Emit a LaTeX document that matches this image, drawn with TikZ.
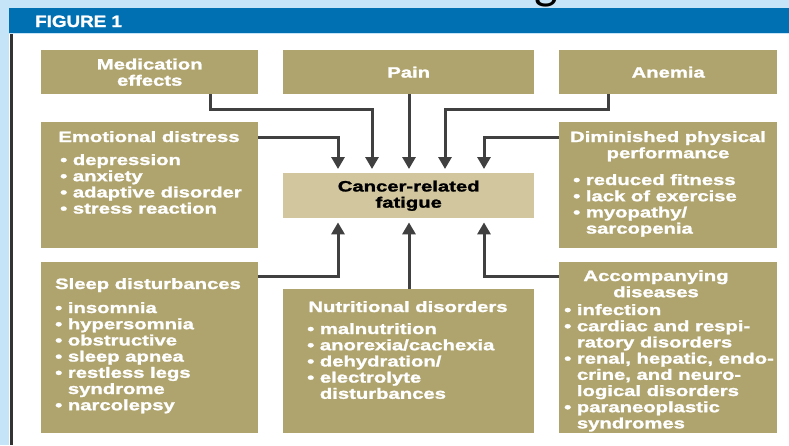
\documentclass[tikz,border=0pt]{standalone}
\usepackage{fontspec}
\usetikzlibrary{arrows.meta}
\setmainfont{Liberation Sans}
\newfontfamily\bxf[FakeStretch=1.35,FakeBold=1.6]{Liberation Sans Bold}
\newfontfamily\figf[FakeStretch=1.14,FakeBold=1.6]{Liberation Sans Bold}
\newfontfamily\titlef{Carlito}
\definecolor{bgblue}{HTML}{C6E4F8}
\definecolor{barblue}{HTML}{0070B2}
\definecolor{olivebox}{HTML}{B0A46E}
\definecolor{fatiguebox}{HTML}{D2C69F}
\definecolor{arrowgray}{HTML}{404040}
\newcommand\hind{\phantom{\textbullet\ }}
\tikzset{
  box/.style={fill=olivebox, draw=none, inner sep=0pt, anchor=north west, text=white,
    font=\bxf\fontsize{15}{16.2}\selectfont, align=center},
  txt/.style={text=white, font=\bxf\fontsize{15}{16.2}\selectfont, inner sep=0pt, align=left},
  head/.style={txt, align=center, anchor=base},
  arr/.style={draw=arrowgray, line width=3pt, -{Triangle[width=13pt,length=12pt]}, shorten >=4pt}
}
\begin{document}
\begin{tikzpicture}[x=1pt,y=-1pt]
\useasboundingbox (0,0) rectangle (789,445);
\clip (0,0) rectangle (789,445);
% background
\fill[bgblue] (0,0) rectangle (789,445);
\fill[white] (9,34) rectangle (789,445);
\node[anchor=south, inner sep=0pt, font=\titlef\fontsize{50}{50}\selectfont] (ttl) at (546,7) {g};
\fill[barblue] (9,8) rectangle (789,33);
\draw[line width=3pt, draw=black!80] (11,34) -- (11,445);
\node[anchor=base west, inner sep=0pt, text=white, font=\figf\fontsize{16.5}{18}\selectfont] (fig) at (35,27) {FIGURE 1};

% boxes
\node[box, minimum width=217pt, minimum height=44pt] (med) at (41,50) {Medication\\effects};
\node[box, minimum width=251pt, minimum height=44pt] (pain) at (283,50) {Pain};
\node[box, minimum width=218pt, minimum height=44pt] (anemia) at (559,50) {Anemia};
\node[box, minimum width=217pt, minimum height=126pt] (emo) at (41,122) {};
\node[box, minimum width=218pt, minimum height=126pt] (dim) at (559,122) {};
\node[box, fill=fatiguebox, text=black, minimum width=251pt, minimum height=45pt] (cancer) at (283,173) {Cancer-related\\fatigue};
\node[box, minimum width=217pt, minimum height=171pt] (sleep) at (41,262) {};
\node[box, minimum width=251pt, minimum height=144pt] (nut) at (283,289) {};
\node[box, minimum width=218pt, minimum height=171pt] (acc) at (559,262) {};

% headings (anchor base = baseline of last line)
\node[head] (emoH) at (149,142) {Emotional distress};
\node[head] (dimH) at (668,158.2) {Diminished physical\\performance};
\node[head] (sleepH) at (148,289) {Sleep disturbances};
\node[head] (nutH) at (408,312) {Nutritional disorders};
\node[head] (accH) at (656,297.2) {Accompanying\\diseases};

% lists (anchor base west = baseline of last line)
\node[txt, anchor=base west] (emoL) at (60,213.6) {\textbullet\ depression\\\textbullet\ anxiety\\\textbullet\ adaptive disorder\\\textbullet\ stress reaction};
\node[txt, anchor=base west] (dimL) at (573,233.6) {\textbullet\ reduced fitness\\\textbullet\ lack of exercise\\\textbullet\ myopathy/\\\hind sarcopenia};
\node[txt, anchor=base west] (sleepL) at (55,410.2) {\textbullet\ insomnia\\\textbullet\ hypersomnia\\\textbullet\ obstructive\\\textbullet\ sleep apnea\\\textbullet\ restless legs\\\hind syndrome\\\textbullet\ narcolepsy};
\node[txt, anchor=base west] (nutL) at (307,398.8) {\textbullet\ malnutrition\\\textbullet\ anorexia/cachexia\\\textbullet\ dehydration/\\\textbullet\ electrolyte\\\hind disturbances};
\node[txt, anchor=base west] (accL) at (564,428.4) {\textbullet\ infection\\\textbullet\ cardiac and respi-\\\hind ratory disorders\\\textbullet\ renal, hepatic, endo-\\\hind crine, and neuro-\\\hind logical disorders\\\textbullet\ paraneoplastic\\\hind syndromes};

% junction coordinates
\coordinate (c1) at (338,0);
\coordinate (c2) at (372,0);
\coordinate (c3) at (409,0);
\coordinate (c4) at (445,0);
\coordinate (c5) at (484,0);
\coordinate (jMed) at (210,109);
\coordinate (jAn) at (608,109);
\coordinate (rowA) at (0,137);
\coordinate (rowB) at (0,276);

% connectors
\draw[arr] (med.south -| jMed) -- (jMed) -| (cancer.north -| c2);
\draw[arr] (pain.south -| c3) -- (cancer.north -| c3);
\draw[arr] (anemia.south -| jAn) -- (jAn) -| (cancer.north -| c4);
\draw[arr] (emo.east |- rowA) -| (cancer.north -| c1);
\draw[arr] (dim.west |- rowA) -| (cancer.north -| c5);
\draw[arr] (sleep.east |- rowB) -| (cancer.south -| c1);
\draw[arr] (nut.north -| c3) -- (cancer.south -| c3);
\draw[arr] (acc.west |- rowB) -| (cancer.south -| c5);
\end{tikzpicture}
\end{document}
